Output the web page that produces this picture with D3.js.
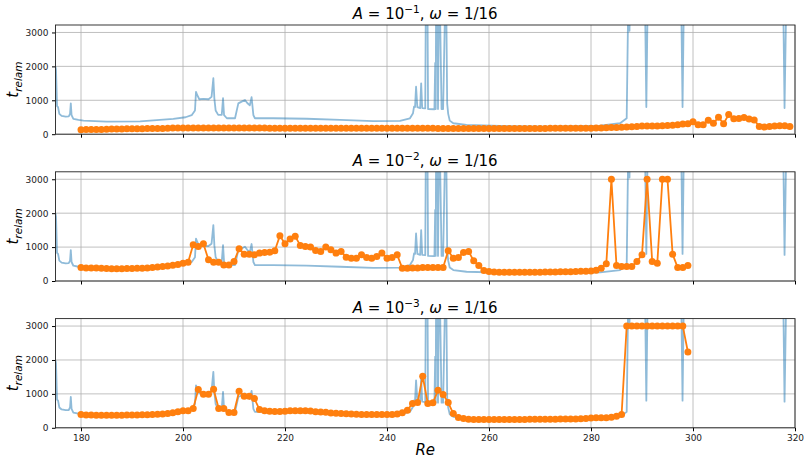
<!DOCTYPE html>
<html>
<head>
<meta charset="utf-8">
<script src="https://cdn.jsdelivr.net/npm/d3@7"></script>
<style>
  body { margin: 0; background: #fff; }
  svg text { font-family: "DejaVu Sans", sans-serif; }
</style>
</head>
<body>
<div id="app"></div>
<script>
// reference curve (same in every panel), values above the axis top get clipped
const refRe = [175.0, 175.1, 175.3, 175.5, 175.75, 176.2, 177.0, 177.6, 177.85, 178.0, 178.15, 178.5, 179.5, 180.5, 185, 191.6, 198.1, 200.5, 201.7,
  202.35, 202.55, 202.8, 203.2, 204, 205, 205.6, 205.95, 206.15, 206.4, 206.9, 207.6, 207.85, 208.05, 208.6, 210.2, 210.85, 211.5, 212.15, 212.6,
  213.1, 213.45, 213.8, 214.1, 217.7, 224.25, 230.8, 237.3, 242.55, 244.5, 245.1, 245.3, 245.5, 245.7, 245.95, 246.5, 246.7, 246.9, 247.5, 247.65,
  247.9, 248.05, 249.3, 249.45, 249.55, 249.65, 249.85, 250.0, 250.25, 250.7, 251.0, 251.55, 251.8, 252.0, 252.3, 253, 255.6, 262.2, 272, 281.8,
  285.7, 287, 287.4, 287.55, 287.7, 290.5, 290.85, 291.2, 297.6, 297.95, 298.3, 317.6, 317.95, 318.4, 320];
const refVal = [1990, 1900, 830, 800, 600, 540, 520, 525, 600, 910, 560, 450, 420, 400, 372, 380, 450, 500, 560,
  700, 1250, 1150, 1030, 1040, 1030, 1100, 1650, 1050, 700, 570, 570, 1060, 560, 470, 470, 910, 960, 1010, 920,
  850, 1090, 560, 470, 470, 455, 420, 385, 395, 470, 620, 810, 800, 1400, 800, 770, 1500, 770, 760, 5000,
  5000, 740, 735, 2100, 740, 5000, 5000, 740, 5000, 740, 740, 5000, 900, 600, 400, 323, 273, 244, 224, 253,
  323, 470, 5000, 3050, 5000, 5000, 800, 5000, 5000, 800, 5000, 5000, 770, 5000, 5000];

// simulated series, one sample per unit of Re
const reA1 = d3.range(180, 320);
const valA1 = [130, 135, 140, 140, 140, 145, 150, 150, 155, 160, 160, 160, 160, 165, 165, 165, 170, 175, 180, 180,
  180, 180, 182, 182, 182, 180, 180, 182, 182, 182, 180, 180, 180, 180, 180, 180, 180, 178, 178, 178,
  178, 178, 178, 178, 176, 176, 176, 176, 176, 175, 175, 175, 175, 175, 175, 175, 175, 175, 175, 175,
  175, 175, 175, 175, 175, 175, 172, 172, 172, 172, 170, 170, 170, 170, 170, 170, 170, 170, 170, 170,
  170, 170, 170, 170, 170, 170, 170, 170, 170, 170, 170, 170, 172, 172, 172, 172, 172, 175, 175, 175,
  175, 180, 185, 190, 195, 200, 205, 215, 220, 230, 240, 240, 245, 245, 250, 255, 265, 280, 300, 310,
  370, 275, 280, 410, 320, 500, 310, 580, 455, 460, 490, 450, 420, 230, 210, 230, 245, 250, 250, 230];

const reA2 = d3.range(180, 300);
const valA2 = [396, 385, 380, 380, 375, 370, 360, 360, 360, 365, 370, 375, 375, 385, 395, 410, 425, 440, 465, 490,
  525, 554, 1070, 1020, 1100, 624, 554, 554, 475, 475, 574, 950, 792, 792, 772, 822, 842, 851, 891, 1337,
  1100, 1238, 1317, 1050, 1020, 1000, 900, 871, 1000, 920, 822, 871, 703, 673, 673, 772, 693, 673, 723, 822,
  673, 693, 772, 376, 376, 380, 385, 396, 396, 396, 396, 400, 891, 673, 693, 842, 871, 594, 455, 307,
  277, 265, 260, 257, 255, 255, 255, 255, 255, 258, 260, 262, 265, 268, 270, 272, 275, 278, 285, 290,
  297, 317, 376, 505, 3000, 455, 426, 426, 426, 574, 772, 3000, 574, 525, 3000, 3000, 792, 396, 396, 455];

const reA3 = d3.range(180, 300);
const valA3 = [392, 380, 375, 372, 372, 372, 372, 372, 372, 375, 378, 380, 382, 385, 390, 400, 410, 421, 441, 470,
  500, 505, 569, 1127, 990, 990, 1137, 569, 569, 450, 450, 1078, 931, 931, 862, 539, 500, 485, 480, 480,
  485, 500, 505, 505, 500, 495, 475, 465, 455, 440, 430, 420, 415, 410, 400, 395, 395, 392, 392, 390,
  390, 395, 410, 441, 520, 716, 745, 1520, 716, 735, 1108, 980, 745, 421, 304, 275, 255, 248, 245, 245,
  245, 243, 243, 245, 245, 245, 247, 248, 250, 250, 252, 255, 255, 255, 257, 258, 260, 262, 265, 275,
  290, 294, 296, 298, 310, 343, 392, 3000, 3000, 3000, 3000, 3000, 3000, 3000, 3000, 3000, 3000, 3000, 3000, 2235];

const panelExp = ["−1", "−2", "−3"];
const xTicks = [180, 200, 220, 240, 260, 280, 300, 320];
const yTicks = [0, 1000, 2000, 3000];

const panels = [
  {re: reA1, val: valA1, exp: panelExp[0]},
  {re: reA2, val: valA2, exp: panelExp[1]},
  {re: reA3, val: valA3, exp: panelExp[2]}
];

const W = 809, H = 460;
const left = 55.5, right = 795;
const tops = [25, 171.8, 318.6];
const ph = 109.2;

const svg = d3.select("#app").append("svg")
  .attr("width", W).attr("height", H);

const x = d3.scaleLinear().domain([175, 320]).range([left, right]);

panels.forEach((p, i) => {
  const top = tops[i];
  const y = d3.scaleLinear().domain([0, 3220]).range([top + ph, top]);
  const g = svg.append("g");

  const clipId = "clip" + i;
  svg.append("clipPath").attr("id", clipId)
    .append("rect").attr("x", left).attr("y", top).attr("width", right - left).attr("height", ph);

  // grid
  g.selectAll(".gx").data(xTicks).enter().append("line")
    .attr("x1", d => x(d)).attr("x2", d => x(d))
    .attr("y1", top).attr("y2", top + ph)
    .attr("stroke", "#b0b0b0").attr("stroke-width", 0.8);
  g.selectAll(".gy").data(yTicks).enter().append("line")
    .attr("x1", left).attr("x2", right)
    .attr("y1", d => y(d)).attr("y2", d => y(d))
    .attr("stroke", "#b0b0b0").attr("stroke-width", 0.8);

  // reference curve
  const ref = refRe.map((r, k) => [r, refVal[k]]);
  g.append("path").datum(ref)
    .attr("clip-path", "url(#" + clipId + ")")
    .attr("fill", "none")
    .attr("stroke", "#1f77b4").attr("stroke-opacity", 0.5)
    .attr("stroke-width", 1.8).attr("stroke-linejoin", "round")
    .attr("d", d3.line().x(d => x(d[0])).y(d => y(d[1])));

  // orange series
  const pts = p.re.map((r, k) => [r, p.val[k]]);
  g.append("path").datum(pts)
    .attr("fill", "none").attr("stroke", "#ff7f0e")
    .attr("stroke-width", 1.8).attr("stroke-linejoin", "round")
    .attr("d", d3.line().x(d => x(d[0])).y(d => y(d[1])));
  g.selectAll(".pt").data(pts).enter().append("circle")
    .attr("cx", d => x(d[0])).attr("cy", d => y(d[1]))
    .attr("r", 3.5).attr("fill", "#ff7f0e");

  // axes
  const ya = g.append("g").attr("transform", "translate(" + left + ",0)")
    .call(d3.axisLeft(y).tickValues(yTicks).tickSize(3.5).tickPadding(3.5).tickFormat(d3.format("d")));
  ya.select(".domain").remove();
  ya.selectAll("text").attr("font-size", 9).attr("fill", "#222").attr("font-family", "DejaVu Sans");

  const xa = g.append("g").attr("transform", "translate(0," + (top + ph) + ")")
    .call(d3.axisBottom(x).tickValues(xTicks).tickSize(3.5).tickPadding(3.5).tickFormat(i === 2 ? d3.format("d") : ""));
  xa.select(".domain").remove();
  xa.selectAll("text").attr("font-size", 9).attr("fill", "#222").attr("font-family", "DejaVu Sans");

  g.append("rect").attr("x", left).attr("y", top).attr("width", right - left).attr("height", ph)
    .attr("fill", "none").attr("stroke", "#222").attr("stroke-width", 0.9);

  // title
  const t = g.append("text").attr("x", (left + right) / 2).attr("y", top - 6)
    .attr("text-anchor", "middle").attr("font-size", 15);
  t.append("tspan").attr("font-style", "italic").text("A");
  t.append("tspan").text(" = 10");
  t.append("tspan").attr("dy", -6).attr("font-size", 10.5).text(p.exp);
  t.append("tspan").attr("dy", 6).text(", ");
  t.append("tspan").attr("font-style", "italic").text("ω");
  t.append("tspan").text(" = 1/16");

  // y label
  const yl = g.append("text")
    .attr("transform", "translate(18," + (top + ph / 2) + ") rotate(-90)")
    .attr("text-anchor", "middle").attr("font-size", 15).attr("font-style", "italic");
  yl.append("tspan").text("t");
  yl.append("tspan").attr("dy", 3.5).attr("font-size", 10.5).text("relam");
});

svg.append("text").attr("x", (left + right) / 2).attr("y", 455)
  .attr("text-anchor", "middle").attr("font-size", 15).attr("font-style", "italic")
  .text("Re");
</script>
</body>
</html>
